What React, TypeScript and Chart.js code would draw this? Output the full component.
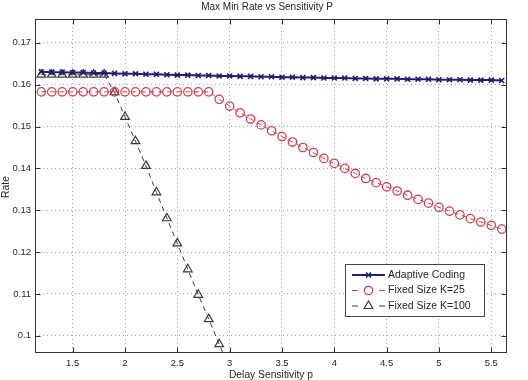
import { useEffect, useRef } from 'react';
import { Chart, registerables } from 'chart.js';

Chart.register(...registerables);

// Delay sensitivity values (x) shared by all three series
const sensitivity = [
  1.2, 1.3, 1.4, 1.5, 1.6, 1.7, 1.8, 1.9, 2.0, 2.1, 2.2, 2.3, 2.4, 2.5, 2.6,
  2.7, 2.8, 2.9, 3.0, 3.1, 3.2, 3.3, 3.4, 3.5, 3.6, 3.7, 3.8, 3.9, 4.0, 4.1,
  4.2, 4.3, 4.4, 4.5, 4.6, 4.7, 4.8, 4.9, 5.0, 5.1, 5.2, 5.3, 5.4, 5.5, 5.6,
];

const adaptiveCoding = [
  0.1631, 0.163, 0.163, 0.1629, 0.1629, 0.1628, 0.1628, 0.1627, 0.1626, 0.1626,
  0.1625, 0.1625, 0.1624, 0.1623, 0.1623, 0.1622, 0.1622, 0.1621, 0.1621, 0.162,
  0.162, 0.1619, 0.1619, 0.1618, 0.1618, 0.1617, 0.1617, 0.1616, 0.1616, 0.1616,
  0.1615, 0.1615, 0.1614, 0.1614, 0.1614, 0.1613, 0.1613, 0.1613, 0.1612, 0.1612,
  0.1612, 0.1611, 0.1611, 0.1611, 0.161,
];

const fixedK25 = [
  0.1583, 0.1583, 0.1583, 0.1583, 0.1583, 0.1583, 0.1583, 0.1583, 0.1583, 0.1583,
  0.1583, 0.1583, 0.1583, 0.1583, 0.1583, 0.1583, 0.1583, 0.1565, 0.1549, 0.1533,
  0.1518, 0.1504, 0.149, 0.1476, 0.1463, 0.145, 0.1438, 0.1424, 0.1412, 0.14,
  0.1388, 0.1376, 0.1366, 0.1356, 0.1346, 0.1336, 0.1326, 0.1317, 0.1307, 0.1298,
  0.1289, 0.128, 0.1272, 0.1264, 0.1255,
];

const fixedK100: (number | null)[] = [
  0.1624, 0.1624, 0.1624, 0.1624, 0.1624, 0.1624, 0.1624, 0.1582, 0.1523, 0.1465,
  0.1406, 0.1343, 0.1281, 0.1221, 0.1159, 0.1098, 0.104, 0.098, 0.092, null,
  null, null, null, null, null, null, null, null, null, null,
  null, null, null, null, null, null, null, null, null, null,
  null, null, null, null, null,
];

const xTicks = [1.5, 2, 2.5, 3, 3.5, 4, 4.5, 5, 5.5];
const yTicks = [0.1, 0.11, 0.12, 0.13, 0.14, 0.15, 0.16, 0.17];

const chartTitle = 'Max Min Rate vs Sensitivity P';
const xTitle = 'Delay Sensitivity p';
const yTitle = 'Rate';
const seriesNames = ['Adaptive Coding', 'Fixed Size K=25', 'Fixed Size K=100'];

const FONT = '"Liberation Sans", Arial, Helvetica, sans-serif';
const TEXT = '#262626';
const NAVY = '#1f1f6e';
const RED = '#d0404e';
const DARK = '#3a3a3a';

function toPoints(values: (number | null)[]) {
  return sensitivity.map((x, i) => ({ x, y: values[i] }));
}

function drawMarker(ctx: CanvasRenderingContext2D, style: string, x: number, y: number, r: number) {
  ctx.beginPath();
  if (style === 'crossRot') {
    const o = r * Math.SQRT1_2;
    ctx.moveTo(x - o, y - o);
    ctx.lineTo(x + o, y + o);
    ctx.moveTo(x + o, y - o);
    ctx.lineTo(x - o, y + o);
  } else if (style === 'circle') {
    ctx.arc(x, y, r, 0, Math.PI * 2);
  } else {
    let a = 0;
    ctx.moveTo(x + Math.sin(a) * r, y - Math.cos(a) * r);
    a += (2 * Math.PI) / 3;
    ctx.lineTo(x + Math.sin(a) * r, y - Math.cos(a) * r);
    a += (2 * Math.PI) / 3;
    ctx.lineTo(x + Math.sin(a) * r, y - Math.cos(a) * r);
    ctx.closePath();
  }
  ctx.stroke();
}

// Frame with inward ticks, titles and the boxed legend
const decorations = {
  id: 'decorations',
  afterDraw(chart: Chart) {
    const { ctx, chartArea: a } = chart;
    const xs = chart.scales.x;
    const ys = chart.scales.y;
    ctx.save();

    // plot box
    ctx.strokeStyle = '#333';
    ctx.lineWidth = 1;
    ctx.setLineDash([]);
    const L = Math.round(a.left) + 0.5;
    const R = Math.round(a.right) - 0.5;
    const T = Math.round(a.top) + 0.5;
    const B = Math.round(a.bottom) - 0.5;
    ctx.strokeRect(L, T, R - L, B - T);

    // inward tick marks on all four sides
    const tl = 5;
    ctx.beginPath();
    xTicks.forEach((v) => {
      const px = Math.round(xs.getPixelForValue(v)) + 0.5;
      ctx.moveTo(px, B);
      ctx.lineTo(px, B - tl);
      ctx.moveTo(px, T);
      ctx.lineTo(px, T + tl);
    });
    yTicks.forEach((v) => {
      const py = Math.round(ys.getPixelForValue(v)) + 0.5;
      ctx.moveTo(L, py);
      ctx.lineTo(L + tl, py);
      ctx.moveTo(R, py);
      ctx.lineTo(R - tl, py);
    });
    ctx.stroke();

    // titles
    ctx.fillStyle = TEXT;
    ctx.font = `10px ${FONT}`;
    ctx.textAlign = 'center';
    ctx.textBaseline = 'middle';
    ctx.fillText(chartTitle, 267, 7);
    ctx.font = `10.3px ${FONT}`;
    ctx.textBaseline = 'alphabetic';
    ctx.fillText(xTitle, (a.left + a.right) / 2, 378);
    ctx.save();
    ctx.translate(9, (a.top + a.bottom) / 2 + 1);
    ctx.rotate(-Math.PI / 2);
    ctx.fillText(yTitle, 0, 0);
    ctx.restore();

    // legend
    const bx = 345.5;
    const by = 264.5;
    const bw = 139;
    const bh = 52;
    ctx.fillStyle = '#fff';
    ctx.fillRect(bx, by, bw, bh);
    ctx.strokeStyle = '#444';
    ctx.lineWidth = 1;
    ctx.strokeRect(bx, by, bw, bh);

    const rows = [275, 290.5, 306];
    chart.data.datasets.forEach((ds: any, i: number) => {
      const y = rows[i];
      const x0 = 352;
      const x1 = 385;
      const xm = (x0 + x1) / 2;
      ctx.strokeStyle = ds.borderColor;
      ctx.lineWidth = ds.borderWidth;
      ctx.setLineDash([]);
      ctx.beginPath();
      if (ds.borderDash && ds.borderDash.length) {
        ctx.moveTo(x0, y);
        ctx.lineTo(x0 + 6, y);
        ctx.moveTo(x1 - 6, y);
        ctx.lineTo(x1, y);
      } else {
        ctx.moveTo(x0, y);
        ctx.lineTo(x1, y);
      }
      ctx.stroke();
      ctx.strokeStyle = ds.pointBorderColor;
      ctx.lineWidth = ds.pointBorderWidth;
      drawMarker(ctx, ds.pointStyle, xm, y, ds.pointRadius);
      ctx.fillStyle = TEXT;
      ctx.font = `10.5px ${FONT}`;
      ctx.textAlign = 'left';
      ctx.textBaseline = 'middle';
      ctx.fillText(seriesNames[i], 388, y);
    });

    ctx.restore();
  },
};

export default function App() {
  const canvasRef = useRef<HTMLCanvasElement | null>(null);

  useEffect(() => {
    const canvas = canvasRef.current;
    if (!canvas) return;
    const tickFont = { family: FONT, size: 9.5 };
    const chart = new Chart(canvas, {
      type: 'line',
      data: {
        datasets: [
          {
            label: seriesNames[0],
            data: toPoints(adaptiveCoding),
            borderColor: NAVY,
            borderWidth: 2,
            pointStyle: 'crossRot',
            pointRadius: 3.5,
            pointBorderColor: NAVY,
            pointBorderWidth: 1.6,
            pointBackgroundColor: 'transparent',
            fill: false,
          },
          {
            label: seriesNames[1],
            data: toPoints(fixedK25),
            borderColor: RED,
            borderWidth: 1,
            borderDash: [5, 4],
            pointStyle: 'circle',
            pointRadius: 4.2,
            pointBorderColor: RED,
            pointBorderWidth: 1.3,
            pointBackgroundColor: 'transparent',
            fill: false,
          },
          {
            label: seriesNames[2],
            data: toPoints(fixedK100),
            borderColor: DARK,
            borderWidth: 1,
            borderDash: [5, 4],
            pointStyle: 'triangle',
            pointRadius: 5,
            pointBorderColor: DARK,
            pointBorderWidth: 1.2,
            pointBackgroundColor: 'transparent',
            fill: false,
            spanGaps: false,
          },
        ] as any,
      },
      options: {
        responsive: false,
        animation: false,
        events: [],
        layout: { padding: { left: 0, right: 21, top: 19, bottom: 0 } },
        plugins: {
          legend: { display: false },
          title: { display: false },
          tooltip: { enabled: false },
        },
        elements: { line: { tension: 0 } },
        scales: {
          x: {
            type: 'linear',
            min: 1.14,
            max: 5.65,
            afterBuildTicks: (s: any) => {
              s.ticks = xTicks.map((value) => ({ value }));
            },
            afterFit: (s: any) => {
              s.height = 27;
            },
            grid: {
              color: '#a8a8a8',
              lineWidth: 1,
              drawTicks: false,
            },
            border: { display: false, dash: [1, 3] },
            ticks: {
              color: TEXT,
              font: tickFont,
              padding: 5,
              maxRotation: 0,
              autoSkip: false,
              callback: (v: any) => String(Number(Number(v).toFixed(2))),
            },
          },
          y: {
            type: 'linear',
            min: 0.0959,
            max: 0.1757,
            afterBuildTicks: (s: any) => {
              s.ticks = yTicks.map((value) => ({ value }));
            },
            afterFit: (s: any) => {
              s.width = 35;
            },
            grid: {
              color: '#a8a8a8',
              lineWidth: 1,
              drawTicks: false,
            },
            border: { display: false, dash: [1, 3] },
            ticks: {
              color: TEXT,
              font: tickFont,
              padding: 4,
              autoSkip: false,
              callback: (v: any) => String(Number(Number(v).toFixed(2))),
            },
          },
        },
      },
      plugins: [decorations],
    });
    return () => chart.destroy();
  }, []);

  return (
    <div style={{ position: 'absolute', left: 0, top: 0, width: 528, height: 380, background: '#fff' }}>
      <canvas ref={canvasRef} width={528} height={380} style={{ display: 'block' }} />
    </div>
  );
}
